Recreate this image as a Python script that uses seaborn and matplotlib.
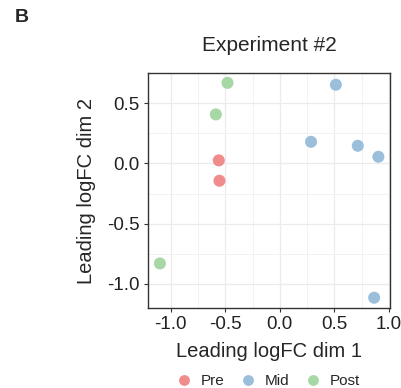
import numpy as np
import pandas as pd
import matplotlib
matplotlib.use("Agg")
import matplotlib.pyplot as plt
import seaborn as sns
from matplotlib.ticker import MultipleLocator

# MDS coordinates per sample
groups = ["Pre", "Pre", "Mid", "Mid", "Mid", "Mid", "Mid", "Post", "Post", "Post"]
dim1 = [-0.56, -0.554, 0.514, 0.286, 0.715, 0.904, 0.865, -0.48, -0.587, -1.10]
dim2 = [0.025, -0.144, 0.652, 0.179, 0.146, 0.055, -1.114, 0.668, 0.406, -0.83]
group_order = ["Pre", "Mid", "Post"]
group_colors = ["#F18C8D", "#9BBEDB", "#A6D7A4"]
x_ticks = [-1.0, -0.5, 0.0, 0.5, 1.0]
y_ticks = [-1.0, -0.5, 0.0, 0.5]

df = pd.DataFrame({"dim1": dim1, "dim2": dim2, "group": groups})

sns.set_style("white")
plt.rcParams["font.family"] = ["Liberation Sans", "DejaVu Sans"]

fig = plt.figure(figsize=(4.02, 3.88), dpi=100)
ax = fig.add_axes([0.368, 0.206, 0.602, 0.606])

sns.scatterplot(data=df, x="dim1", y="dim2", hue="group", hue_order=group_order,
                palette=group_colors, s=75, linewidth=0, ax=ax, zorder=3)

ax.set_xlim(-1.21, 1.01)
ax.set_ylim(-1.2, 0.75)
ax.set_xticks(x_ticks)
ax.set_yticks(y_ticks)
ax.set_xticklabels([f"{t:.1f}" for t in x_ticks])
ax.set_yticklabels([f"{t:.1f}" for t in y_ticks])
ax.xaxis.set_minor_locator(MultipleLocator(0.25))
ax.yaxis.set_minor_locator(MultipleLocator(0.25))
ax.grid(which="major", color="#EBEBEB", linewidth=0.9, zorder=0)
ax.grid(which="minor", color="#F2F2F2", linewidth=0.7, zorder=0)
ax.set_axisbelow(True)
ax.tick_params(which="major", direction="out", length=3, width=0.8, color="#333333",
               labelsize=13.5, labelcolor="#222222", left=True, bottom=True, pad=3)
ax.tick_params(which="minor", length=0)
for sp in ax.spines.values():
    sp.set_color("#333333")
    sp.set_linewidth(1.0)

ax.set_xlabel("Leading logFC dim 1", fontsize=14.5, labelpad=6)
ax.set_ylabel("Leading logFC dim 2", fontsize=14.5, labelpad=8)
ax.set_title("Experiment #2", fontsize=15, pad=16)

handles, labels = ax.get_legend_handles_labels()
ax.legend_.remove()
fig.legend(handles, labels, loc="center", bbox_to_anchor=(0.662, 0.017), ncol=3,
           frameon=False, fontsize=11, handletextpad=0.3, columnspacing=0.75,
           handlelength=1.6, markerscale=0.9)

fig.text(0.037, 0.955, "B", fontsize=14, fontweight="bold", va="center", ha="left")

fig.savefig("out.png", dpi=100)
